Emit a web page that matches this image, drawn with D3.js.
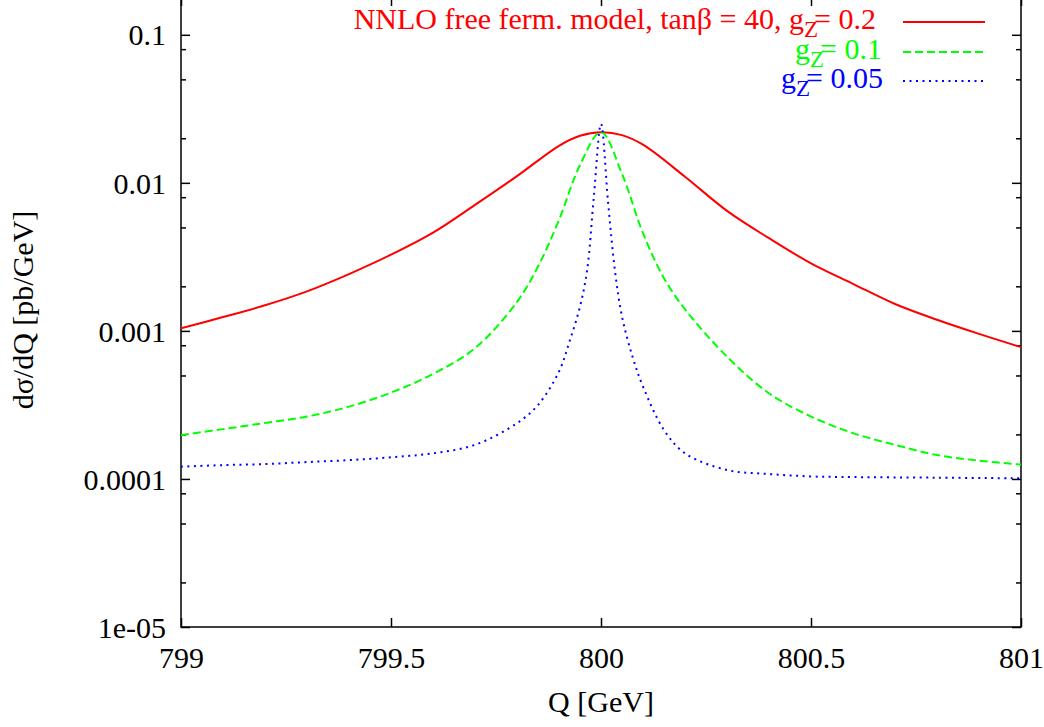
<!DOCTYPE html>
<html>
<head>
<meta charset="utf-8">
<script src="https://cdn.jsdelivr.net/npm/d3@7"></script>
<style>
  html, body { margin: 0; padding: 0; background: #fff; }
  svg { display: block; }
  svg text { font-family: "Liberation Serif", "Times New Roman", serif !important; }
</style>
</head>
<body>
<svg id="chart" width="1044" height="727"></svg>
<script>
// ---- data ----
const xTickValues = [799, 799.5, 800, 800.5, 801];
const xTickLabels = ["799", "799.5", "800", "800.5", "801"];
const yTickValues = [1e-5, 1e-4, 1e-3, 1e-2, 1e-1];
const yTickLabels = ["1e-05", "0.0001", "0.001", "0.01", "0.1"];
const yMinorMantissas = [2, 5, 8];

const seriesNames = ["NNLO free ferm. model, tanβ = 40, g", "g", "g"];
const seriesSuffix = ["= 0.2", "= 0.1", "= 0.05"];

const qRed = [799.0,799.1,799.2,799.3,799.4,799.5,799.6,799.7,799.8,799.9,799.95,800.0,
              800.05,800.1,800.2,800.3,800.4,800.5,800.6,800.7,800.8,800.9,801.0];
const red  = [1.04e-3,1.24e-3,1.49e-3,1.85e-3,2.42e-3,3.27e-3,4.61e-3,7.10e-3,1.11e-2,1.78e-2,2.08e-2,2.20e-2,
              2.10e-2,1.81e-2,1.10e-2,6.47e-3,4.23e-3,2.86e-3,2.08e-3,1.52e-3,1.19e-3,9.55e-4,7.77e-4];

const qGreen = [799.0,799.1,799.2,799.3,799.4,799.5,799.6,799.7,799.8,799.85,799.9,799.95,800.0,
                800.05,800.1,800.15,800.2,800.3,800.4,800.5,800.6,800.7,800.8,800.9,801.0];
const green  = [1.98e-4,2.17e-4,2.39e-4,2.64e-4,3.08e-4,3.83e-4,5.12e-4,7.64e-4,1.57e-3,2.72e-3,5.62e-3,1.32e-2,2.20e-2,
                1.15e-2,4.57e-3,2.27e-3,1.40e-3,6.70e-4,3.79e-4,2.64e-4,2.04e-4,1.70e-4,1.45e-4,1.33e-4,1.25e-4];

const qBlue = [799.0,799.1,799.2,799.3,799.4,799.5,799.6,799.7,799.8,799.85,799.9,799.925,799.95,799.967,799.983,800.0,
               800.017,800.033,800.05,800.075,800.1,800.15,800.2,800.3,800.4,800.5,800.6,800.8,801.0];
const blue  = [1.21e-4,1.24e-4,1.26e-4,1.30e-4,1.34e-4,1.40e-4,1.49e-4,1.70e-4,2.38e-4,3.16e-4,5.31e-4,8.47e-4,1.46e-3,2.58e-3,8.09e-3,2.5e-2,
               7.30e-3,2.58e-3,1.25e-3,6.70e-4,4.21e-4,2.14e-4,1.49e-4,1.15e-4,1.08e-4,1.04e-4,1.03e-4,1.02e-4,1.01e-4];

// ---- layout ----
const L = 181, R = 1021, T = -3, B = 627;
const FONT = "'Liberation Serif', 'Times New Roman', serif";
const svg = d3.select("#chart");
const x = d3.scaleLinear().domain([799, 801]).range([L, R]);
const y = d3.scaleLog().domain([1e-5, 0.18]).range([B, T]);

const yMinor = [];
for (let e = -5; e <= -1; e++) {
  yMinorMantissas.forEach(m => {
    const v = m * Math.pow(10, e);
    if (v > y.domain()[0] && v < y.domain()[1]) yMinor.push(v);
  });
}

const fontSize = 30;
const axisColor = "#000";

function styleAxis(g) {
  g.attr("font-family", FONT).attr("font-size", fontSize);
  g.select(".domain").remove();
  g.selectAll(".tick line").attr("stroke", axisColor).attr("stroke-width", 1.5);
  g.selectAll(".tick text")
    .style("font-family", FONT)
    .style("font-size", fontSize + "px")
    .attr("fill", "#000");
}

// left axis (labels)
svg.append("g").attr("transform", `translate(${L},0)`)
  .call(d3.axisLeft(y).tickValues(yTickValues)
    .tickFormat((d, i) => yTickLabels[i]).tickSize(-9).tickPadding(15))
  .call(styleAxis)
  .call(g => g.selectAll(".tick text").attr("dy", "0.34em"));
svg.append("g").attr("transform", `translate(${L},0)`)
  .call(d3.axisLeft(y).tickValues(yMinor).tickFormat("").tickSize(-5))
  .call(styleAxis);
// right axis
svg.append("g").attr("transform", `translate(${R},0)`)
  .call(d3.axisRight(y).tickValues(yTickValues).tickFormat("").tickSize(-9))
  .call(styleAxis);
svg.append("g").attr("transform", `translate(${R},0)`)
  .call(d3.axisRight(y).tickValues(yMinor).tickFormat("").tickSize(-5))
  .call(styleAxis);
// bottom axis
svg.append("g").attr("transform", `translate(0,${B})`)
  .call(d3.axisBottom(x).tickValues(xTickValues)
    .tickFormat((d, i) => xTickLabels[i]).tickSize(-9).tickPadding(20))
  .call(styleAxis)
  .call(g => g.selectAll(".tick text").attr("dy", "0.71em"));
// top axis
svg.append("g").attr("transform", `translate(0,${T})`)
  .call(d3.axisTop(x).tickValues(xTickValues).tickFormat("").tickSize(-9))
  .call(styleAxis);

// frame
svg.append("rect").attr("x", L).attr("y", T).attr("width", R - L).attr("height", B - T)
  .attr("fill", "none").attr("stroke", axisColor).attr("stroke-width", 1.5);

// axis titles
svg.append("text").attr("x", 601).attr("y", 712).attr("text-anchor", "middle")
  .style("font-family", FONT).attr("font-size", fontSize).text("Q [GeV]");
svg.append("text").attr("transform", "translate(33,310) rotate(-90)")
  .style("font-family", FONT)
  .attr("text-anchor", "middle").attr("font-size", fontSize).text("dσ/dQ [pb/GeV]");

// curves
svg.append("clipPath").attr("id", "clip").append("rect")
  .attr("x", L).attr("y", T).attr("width", R - L).attr("height", B - T);

const series = [
  { q: qRed, v: red, color: "#ff0000", dash: null, textEnd: 876, ly: 22 },
  { q: qGreen, v: green, color: "#00ff00", dash: "8,4", textEnd: 882, ly: 52 },
  { q: qBlue, v: blue, color: "#0000ff", dash: "2,4.5", textEnd: 883, ly: 81 }
];

const line = d3.line().x(d => x(d[0])).y(d => y(d[1])).curve(d3.curveCatmullRom.alpha(0.5));

series.forEach(s => {
  const pts = s.q.map((q, i) => [q, s.v[i]]);
  svg.append("path").datum(pts)
    .attr("clip-path", "url(#clip)")
    .attr("fill", "none").attr("stroke", s.color).attr("stroke-width", 2)
    .attr("stroke-dasharray", s.dash)
    .attr("d", line);
});

// legend
series.forEach((s, i) => {
  const t = svg.append("text").attr("x", s.textEnd).attr("y", s.ly + 7)
    .style("font-family", FONT)
    .attr("text-anchor", "end").attr("font-size", fontSize).attr("fill", s.color);
  t.append("tspan").text(seriesNames[i]);
  t.append("tspan").attr("dy", 8).attr("font-size", 23).text("Z");
  t.append("tspan").attr("dy", -8).attr("dx", -4).text(seriesSuffix[i]);
  svg.append("line").attr("x1", 903).attr("x2", 985).attr("y1", s.ly).attr("y2", s.ly)
    .attr("stroke", s.color).attr("stroke-width", 2).attr("stroke-dasharray", s.dash);
});
</script>
</body>
</html>
